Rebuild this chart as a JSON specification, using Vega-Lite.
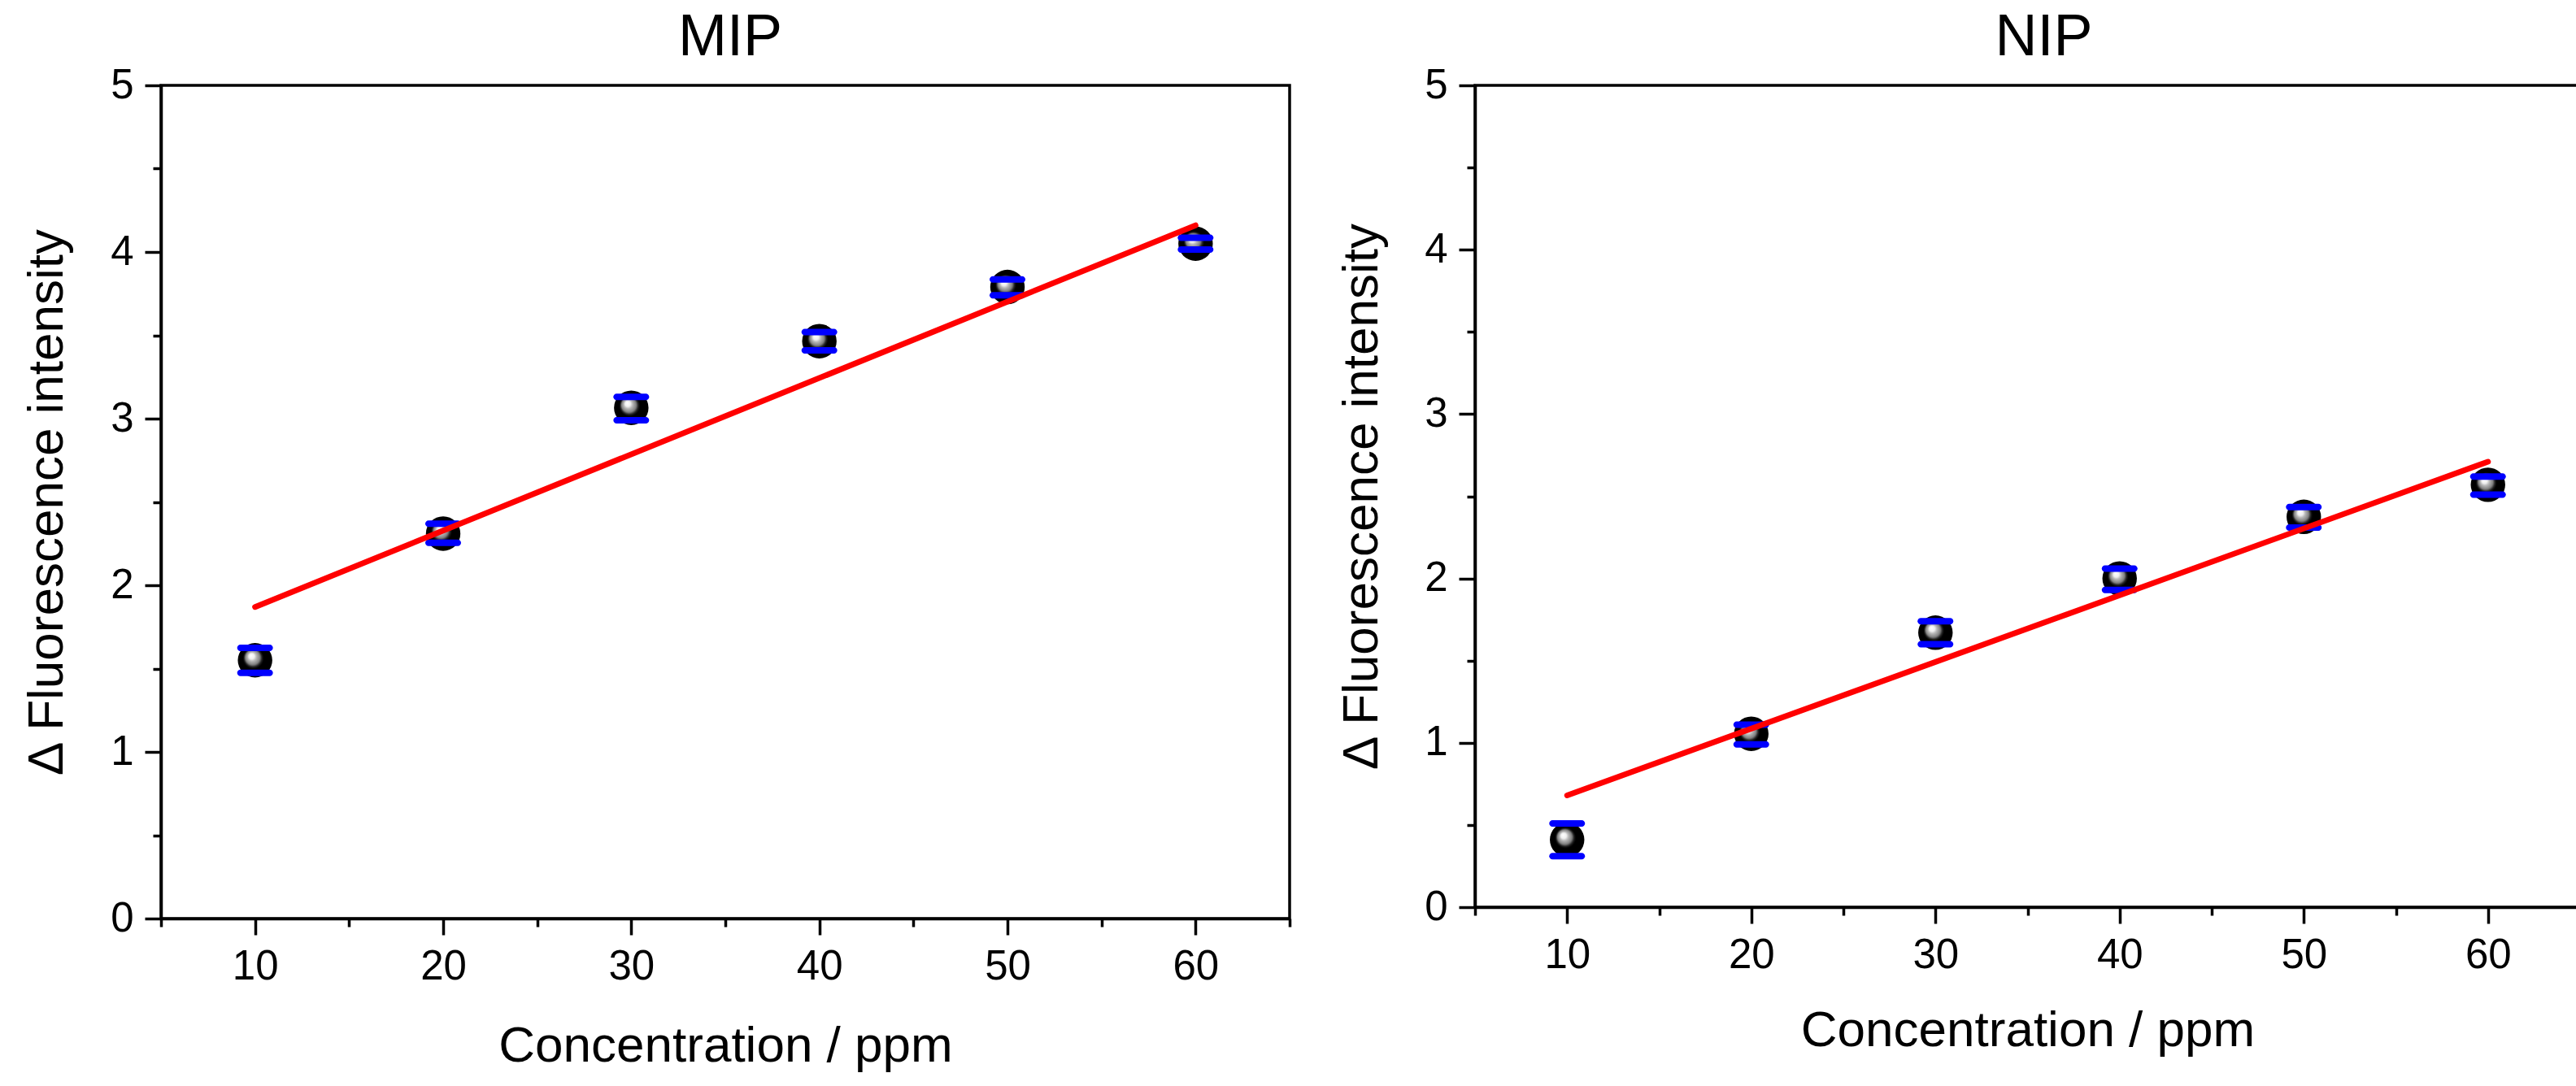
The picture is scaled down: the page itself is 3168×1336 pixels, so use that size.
{
  "$schema": "https://vega.github.io/schema/vega-lite/v6.json",
  "background": "white",
  "padding": {"left": 24, "top": 8, "right": 0, "bottom": 0},
  "spacing": 51,
  "config": {
    "view": {"stroke": "black", "strokeWidth": 3.5},
    "axis": {
      "labelFont": "Liberation Sans", "labelFontSize": 51, "labelColor": "black",
      "titleFont": "Liberation Sans", "titleFontSize": 62, "titleFontWeight": "normal", "titleColor": "black",
      "domainColor": "black", "tickColor": "black", "domainWidth": 3.5, "tickWidth": 3.5, "grid": false,
      "labelOverlap": false, "labelFlush": false
    },
    "title": {"font": "Liberation Sans", "fontSize": 72, "fontWeight": "normal", "color": "black", "baseline": "alphabetic", "anchor": "middle"}
  },
  "datasets": {
    "pts": [
      {"panel": "MIP", "conc": 10, "mean": 1.55, "lo": 1.475, "hi": 1.625},
      {"panel": "MIP", "conc": 20, "mean": 2.31, "lo": 2.255, "hi": 2.37},
      {"panel": "MIP", "conc": 30, "mean": 3.065, "lo": 2.99, "hi": 3.13},
      {"panel": "MIP", "conc": 40, "mean": 3.465, "lo": 3.41, "hi": 3.52},
      {"panel": "MIP", "conc": 50, "mean": 3.79, "lo": 3.74, "hi": 3.835},
      {"panel": "MIP", "conc": 60, "mean": 4.05, "lo": 4.015, "hi": 4.085},
      {"panel": "NIP", "conc": 10, "mean": 0.41, "lo": 0.31, "hi": 0.51},
      {"panel": "NIP", "conc": 20, "mean": 1.055, "lo": 0.99, "hi": 1.11},
      {"panel": "NIP", "conc": 30, "mean": 1.67, "lo": 1.6, "hi": 1.74},
      {"panel": "NIP", "conc": 40, "mean": 2.0, "lo": 1.93, "hi": 2.06},
      {"panel": "NIP", "conc": 50, "mean": 2.375, "lo": 2.31, "hi": 2.435},
      {"panel": "NIP", "conc": 60, "mean": 2.57, "lo": 2.51, "hi": 2.62}
    ],
    "fit": [
      {"panel": "MIP", "conc": 10, "fit": 1.87},
      {"panel": "MIP", "conc": 60, "fit": 4.16},
      {"panel": "NIP", "conc": 10, "fit": 0.68},
      {"panel": "NIP", "conc": 60, "fit": 2.71}
    ]
  },
  "hconcat": [
    {
      "width": 1388, "height": 1025,
      "title": {"text": "MIP", "offset": -4, "dx": 6},
      "layer": [
        {
          "data": {"name": "pts"},
          "transform": [{"filter": "datum.panel === 'MIP'"}],
          "mark": {"type": "rule", "color": "#0000FF", "strokeWidth": 5},
          "encoding": {
            "x": {"field": "conc", "type": "quantitative", "scale": {"domain": [5, 65], "nice": false, "zero": false},
                  "axis": {"values": [10, 20, 30, 40, 50, 60], "tickSize": 20, "labelPadding": 14, "title": "Concentration / ppm", "titleY": 175, "titleBaseline": "alphabetic"}},
            "y": {"field": "lo", "type": "quantitative", "scale": {"domain": [0, 5], "nice": false, "zero": false},
                  "axis": {"values": [0, 1, 2, 3, 4, 5], "tickSize": 20, "labelPadding": 14, "format": "d", "title": "Δ Fluorescence intensity", "titleX": -122, "titleY": 512.5, "titleAngle": -90, "titleBaseline": "alphabetic", "titleAlign": "center"}},
            "y2": {"field": "hi"}
          }
        },
        {
          "data": {"name": "pts"},
          "transform": [{"filter": "datum.panel === 'MIP'"}],
          "mark": {"type": "point", "shape": "circle", "filled": true, "size": 1800, "opacity": 1, "strokeWidth": 0,
                   "fill": {"gradient": "radial", "x1": 0.38, "y1": 0.36, "r1": 0, "x2": 0.5, "y2": 0.5, "r2": 0.5,
                            "stops": [{"offset": 0, "color": "#ffffff"}, {"offset": 0.16, "color": "#f0f0f0"}, {"offset": 0.26, "color": "#b8b8b8"}, {"offset": 0.42, "color": "#808080"}, {"offset": 0.52, "color": "#202020"}, {"offset": 0.6, "color": "#000000"}, {"offset": 1, "color": "#000000"}]}},
          "encoding": {
            "x": {"field": "conc", "type": "quantitative", "scale": {"domain": [5, 65], "nice": false, "zero": false}, "axis": null},
            "y": {"field": "mean", "type": "quantitative", "scale": {"domain": [0, 5], "nice": false, "zero": false}, "axis": null}
          }
        },
        {
          "data": {"name": "pts"},
          "transform": [{"filter": "datum.panel === 'MIP'"}],
          "mark": {"type": "tick", "orient": "horizontal", "color": "#0000FF", "size": 44, "thickness": 8, "cornerRadius": 4, "opacity": 1},
          "encoding": {
            "x": {"field": "conc", "type": "quantitative", "scale": {"domain": [5, 65], "nice": false, "zero": false}, "axis": null},
            "y": {"field": "lo", "type": "quantitative", "scale": {"domain": [0, 5], "nice": false, "zero": false}, "axis": null}
          }
        },
        {
          "data": {"name": "pts"},
          "transform": [{"filter": "datum.panel === 'MIP'"}],
          "mark": {"type": "tick", "orient": "horizontal", "color": "#0000FF", "size": 44, "thickness": 8, "cornerRadius": 4, "opacity": 1},
          "encoding": {
            "x": {"field": "conc", "type": "quantitative", "scale": {"domain": [5, 65], "nice": false, "zero": false}, "axis": null},
            "y": {"field": "hi", "type": "quantitative", "scale": {"domain": [0, 5], "nice": false, "zero": false}, "axis": null}
          }
        },
        {
          "data": {"name": "fit"},
          "transform": [{"filter": "datum.panel === 'MIP'"}],
          "mark": {"type": "line", "color": "#FF0000", "strokeWidth": 7, "strokeCap": "round"},
          "encoding": {
            "x": {"field": "conc", "type": "quantitative", "scale": {"domain": [5, 65], "nice": false, "zero": false},
                  "axis": {"orient": "bottom", "values": [5, 15, 25, 35, 45, 55, 65], "tickSize": 10, "labels": false, "domain": false, "title": null}},
            "y": {"field": "fit", "type": "quantitative", "scale": {"domain": [0, 5], "nice": false, "zero": false},
                  "axis": {"orient": "left", "values": [0.5, 1.5, 2.5, 3.5, 4.5], "tickSize": 10, "labels": false, "domain": false, "title": null}}
          }
        }
      ],
      "resolve": {"axis": {"x": "independent", "y": "independent"}}
    },
    {
      "width": 1359, "height": 1011,
      "title": {"text": "NIP", "offset": -4, "dx": 20},
      "layer": [
        {
          "data": {"name": "pts"},
          "transform": [{"filter": "datum.panel === 'NIP'"}],
          "mark": {"type": "rule", "color": "#0000FF", "strokeWidth": 5},
          "encoding": {
            "x": {"field": "conc", "type": "quantitative", "scale": {"domain": [5, 65], "nice": false, "zero": false},
                  "axis": {"values": [10, 20, 30, 40, 50, 60], "tickSize": 20, "labelPadding": 14, "title": "Concentration / ppm", "titleY": 170, "titleBaseline": "alphabetic"}},
            "y": {"field": "lo", "type": "quantitative", "scale": {"domain": [0, 5], "nice": false, "zero": false},
                  "axis": {"values": [0, 1, 2, 3, 4, 5], "tickSize": 20, "labelPadding": 14, "format": "d", "title": "Δ Fluorescence intensity", "titleX": -121, "titleY": 505.5, "titleAngle": -90, "titleBaseline": "alphabetic", "titleAlign": "center"}},
            "y2": {"field": "hi"}
          }
        },
        {
          "data": {"name": "pts"},
          "transform": [{"filter": "datum.panel === 'NIP'"}],
          "mark": {"type": "point", "shape": "circle", "filled": true, "size": 1800, "opacity": 1, "strokeWidth": 0,
                   "fill": {"gradient": "radial", "x1": 0.38, "y1": 0.36, "r1": 0, "x2": 0.5, "y2": 0.5, "r2": 0.5,
                            "stops": [{"offset": 0, "color": "#ffffff"}, {"offset": 0.16, "color": "#f0f0f0"}, {"offset": 0.26, "color": "#b8b8b8"}, {"offset": 0.42, "color": "#808080"}, {"offset": 0.52, "color": "#202020"}, {"offset": 0.6, "color": "#000000"}, {"offset": 1, "color": "#000000"}]}},
          "encoding": {
            "x": {"field": "conc", "type": "quantitative", "scale": {"domain": [5, 65], "nice": false, "zero": false}, "axis": null},
            "y": {"field": "mean", "type": "quantitative", "scale": {"domain": [0, 5], "nice": false, "zero": false}, "axis": null}
          }
        },
        {
          "data": {"name": "pts"},
          "transform": [{"filter": "datum.panel === 'NIP'"}],
          "mark": {"type": "tick", "orient": "horizontal", "color": "#0000FF", "size": 44, "thickness": 8, "cornerRadius": 4, "opacity": 1},
          "encoding": {
            "x": {"field": "conc", "type": "quantitative", "scale": {"domain": [5, 65], "nice": false, "zero": false}, "axis": null},
            "y": {"field": "lo", "type": "quantitative", "scale": {"domain": [0, 5], "nice": false, "zero": false}, "axis": null}
          }
        },
        {
          "data": {"name": "pts"},
          "transform": [{"filter": "datum.panel === 'NIP'"}],
          "mark": {"type": "tick", "orient": "horizontal", "color": "#0000FF", "size": 44, "thickness": 8, "cornerRadius": 4, "opacity": 1},
          "encoding": {
            "x": {"field": "conc", "type": "quantitative", "scale": {"domain": [5, 65], "nice": false, "zero": false}, "axis": null},
            "y": {"field": "hi", "type": "quantitative", "scale": {"domain": [0, 5], "nice": false, "zero": false}, "axis": null}
          }
        },
        {
          "data": {"name": "fit"},
          "transform": [{"filter": "datum.panel === 'NIP'"}],
          "mark": {"type": "line", "color": "#FF0000", "strokeWidth": 7, "strokeCap": "round"},
          "encoding": {
            "x": {"field": "conc", "type": "quantitative", "scale": {"domain": [5, 65], "nice": false, "zero": false},
                  "axis": {"orient": "bottom", "values": [5, 15, 25, 35, 45, 55, 65], "tickSize": 10, "labels": false, "domain": false, "title": null}},
            "y": {"field": "fit", "type": "quantitative", "scale": {"domain": [0, 5], "nice": false, "zero": false},
                  "axis": {"orient": "left", "values": [0.5, 1.5, 2.5, 3.5, 4.5], "tickSize": 10, "labels": false, "domain": false, "title": null}}
          }
        }
      ],
      "resolve": {"axis": {"x": "independent", "y": "independent"}}
    }
  ]
}
